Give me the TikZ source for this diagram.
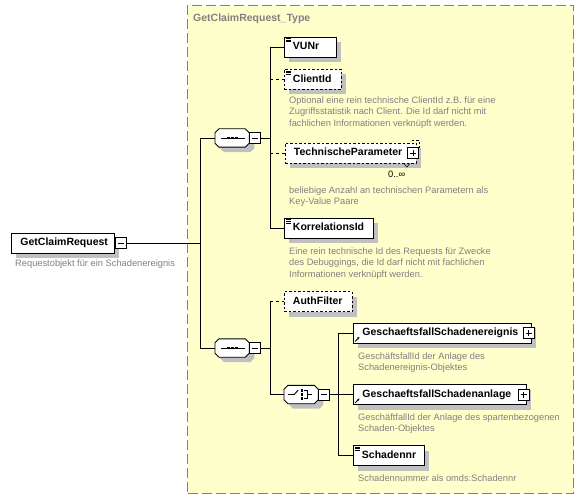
\documentclass[tikz,border=0pt]{standalone}
\usepackage{fontspec}
\setmainfont{Liberation Sans}
\usetikzlibrary{shadows,arrows.meta}
\definecolor{yel}{HTML}{FFFFCC}
\definecolor{frm}{HTML}{808080}
\definecolor{shd}{HTML}{C0C0C0}
\definecolor{dsc}{HTML}{808080}
\newcommand\nmfont{\fontsize{10.5}{12}\selectfont\bfseries}
\newcommand\dsfont{\fontsize{9.3}{11.5}\selectfont}
\newcommand\octpath[1]{([xshift=4pt]#1.north west) -- ([xshift=-4pt]#1.north east) -- ([yshift=-4pt]#1.north east) -- ([yshift=4pt]#1.south east) -- ([xshift=-4pt]#1.south east) -- ([xshift=4pt]#1.south west) -- ([yshift=4pt]#1.south west) -- ([yshift=-4pt]#1.north west) -- cycle}
\newcommand\drawocto[1]{%
  \fill[shd, transform canvas={xshift=5pt,yshift=-5pt}] \octpath{#1};
  \draw[line width=0.9pt, fill=white] \octpath{#1};}
\newcommand\simpleicon[1]{\foreach \dy in {1.8pt,3.5pt,5.2pt}{\draw[line width=0.5pt] ([shift={(2pt,-\dy)}]#1.north west) -- ++(5pt,0pt);}}
\newcommand\reficon[1]{\draw[line width=0.8pt, -{Stealth[length=2.6pt,width=2.6pt]}] ([shift={(2pt,2pt)}]#1.south west) -- ++(4.5pt,4.5pt);}
\newcommand\seqicon[1]{%
  \draw[line width=0.9pt] ([xshift=-11pt]#1.center) -- ([xshift=13pt]#1.center);
  \foreach \dx in {-4pt,0pt,4pt}{\fill ([xshift=\dx]#1.center) +(-1.4pt,-1.4pt) rectangle +(1.4pt,1.4pt);}}
\newcommand\choiceicon[1]{%
  \draw[line width=0.9pt] ([xshift=-13pt]#1.center) -- ([xshift=-7pt]#1.center) -- ([shift={(-3pt,4.5pt)}]#1.center);
  \foreach \dy in {-4pt,0pt,4pt}{\fill ([shift={(1pt,\dy)}]#1.center) +(-1.2pt,-1.2pt) rectangle +(1.2pt,1.2pt);}
  \draw[line width=0.9pt] ([shift={(3pt,4pt)}]#1.center) -- ([shift={(6pt,4pt)}]#1.center) -- ([shift={(6pt,-4pt)}]#1.center) -- ([shift={(3pt,-4pt)}]#1.center);
  \draw[line width=0.9pt] ([xshift=6pt]#1.center) -- ([xshift=11pt]#1.center);}
\tikzset{
  conn/.style={line width=0.9pt},
  elbox/.style={draw, fill=white, line width=0.9pt, font=\nmfont, anchor=west, inner sep=0pt,
    minimum height=20pt, text height=7.6pt, text depth=2.2pt, align=left, text width=#1,
    general shadow={fill=shd, shadow xshift=5pt, shadow yshift=-5pt}},
  optbox/.style={elbox=#1, dash pattern=on 2.5pt off 2pt},
  octo/.style={anchor=west, minimum width=34pt, minimum height=18pt, inner sep=0pt},
  mbox/.style={draw, fill=white, line width=0.9pt, minimum size=11pt, inner sep=0pt, anchor=west,
    path picture={\draw[line width=0.9pt] ([xshift=2.5pt]path picture bounding box.west) -- ([xshift=-2.5pt]path picture bounding box.east);}},
  pbox/.style={draw, fill=white, line width=0.9pt, minimum size=11pt, inner sep=0pt, anchor=center,
    path picture={\draw[line width=0.9pt] ([xshift=2.5pt]path picture bounding box.west) -- ([xshift=-2.5pt]path picture bounding box.east) ([yshift=-2.5pt]path picture bounding box.north) -- ([yshift=2.5pt]path picture bounding box.south);}},
  descr/.style={anchor=north west, inner sep=0pt, font=\dsfont, text=dsc, align=left},
  typebox/.style={draw=frm, fill=yel, line width=1pt, dash pattern=on 10pt off 4pt, anchor=north west,
    minimum width=386pt, minimum height=488pt, inner sep=0pt},
}
\begin{document}
\begin{tikzpicture}[x=1pt,y=-1pt]
\useasboundingbox (0,0) rectangle (584,500);
\fill[white] (0,0) rectangle (584,500);
\node[typebox] (tb) at (187,5) {};
\node[anchor=base west, font=\nmfont, text=dsc, inner sep=0pt] (title) at (193,22) {GetClaimRequest\_Type};
\coordinate (s0) at (200,0);
\coordinate (s1) at (270,0);
\coordinate (s2) at (338,0);
% root element
\node[elbox=103pt] (gcr) at (11,243) {\hspace*{9pt}GetClaimRequest};
\node[mbox] (gcrm) at (gcr.east) {};
\node[descr] (gcrd) at (15,259) {\rule{0pt}{7pt}Requestobjekt für ein Schadenereignis};
% sequence 1
\node[octo] (seqA) at (215,138) {};
\drawocto{seqA}
\seqicon{seqA}
\node[mbox] (seqAm) at (seqA.east) {};
\node[elbox=52pt] (vunr) at (284,47) {\hspace*{8.5pt}VUNr};
\simpleicon{vunr}
\node[optbox=57pt] (client) at (284,79.5) {\hspace*{8.5pt}ClientId};
\simpleicon{client}
\node[descr] (clientd) at (289,96) {\rule{0pt}{7pt}Optional eine rein technische ClientId z.B. für eine\\Zugriffsstatistik nach Client. Die Id darf nicht mit\\fachlichen Informationen verknüpft werden.};
\node[optbox=131pt] (tp) at (285,153) {\hspace*{8.5pt}TechnischeParameter};
\draw[line width=0.9pt, dash pattern=on 2.5pt off 2pt] ([xshift=-5pt,yshift=2.5pt]tp.north east) -- ([xshift=2.5pt,yshift=2.5pt]tp.north east) -- ([xshift=2.5pt,yshift=-5pt]tp.north east);
\node[pbox] (tpp) at ([xshift=-3.5pt]tp.east) {};
\draw[line width=0.6pt] ([xshift=-13pt]tp.south east) -- ++(3pt,-3.5pt) -- ++(3pt,3.5pt);
\node[anchor=base west, font=\dsfont, inner sep=0pt] (tpocc) at (388,178) {0..∞};
\node[descr] (tpd) at (289,186) {\rule{0pt}{7pt}beliebige Anzahl an technischen Parametern als\\Key-Value Paare};
\node[elbox=89pt] (korr) at (284,228) {\hspace*{8.5pt}KorrelationsId};
\simpleicon{korr}
\node[descr] (korrd) at (289,247) {\rule{0pt}{7pt}Eine rein technische Id des Requests für Zwecke\\des Debuggings, die Id darf nicht mit fachlichen\\Informationen verknüpft werden.};
% sequence 2
\node[octo] (seqB) at (215,348) {};
\drawocto{seqB}
\seqicon{seqB}
\node[mbox] (seqBm) at (seqB.east) {};
\node[optbox=68pt] (auth) at (284,301.5) {\hspace*{8.5pt}AuthFilter};
% choice
\node[octo] (choice) at (284,394.5) {};
\drawocto{choice}
\choiceicon{choice}
\node[mbox] (choicem) at (choice.east) {};
\node[elbox=178pt] (gse) at (353,333) {\hspace*{9pt}GeschaeftsfallSchadenereignis};
\node[pbox] (gsep) at ([xshift=-3pt]gse.east) {};
\reficon{gse}
\node[descr] (gsed) at (358,352) {\rule{0pt}{7pt}GeschäftsfallId der Anlage des\\Schadenereignis-Objektes};
\node[elbox=173pt] (gsa) at (353,394.5) {\hspace*{9pt}GeschaeftsfallSchadenanlage};
\node[pbox] (gsap) at ([xshift=-3pt]gsa.east) {};
\reficon{gsa}
\node[descr] (gsad) at (358,413) {\rule{0pt}{7pt}GeschäftfallId der Anlage des spartenbezogenen\\Schaden-Objektes};
\node[elbox=71pt] (schnr) at (353,455.5) {\hspace*{8.5pt}Schadennr};
\simpleicon{schnr}
\node[descr] (schnrd) at (358,474) {\rule{0pt}{7pt}Schadennummer als omds:Schadennr};
% connectors
\draw[conn] (gcrm.east) -- (gcrm.east -| s0);
\draw[conn] (seqA.west) -- (seqA.west -| s0) -- (seqB.west -| s0) -- (seqB.west);
\draw[conn] (seqAm.east) -- (seqAm.east -| s1);
\draw[conn] (vunr.west) -- (vunr.west -| s1) -- (korr.west -| s1) -- (korr.west);
\draw[conn, dashed] (client.west -| s1) -- (client.west);
\draw[conn, dashed] (tp.west -| s1) -- (tp.west);
\draw[conn] (seqBm.east) -- (seqBm.east -| s1);
\draw[conn] (auth.west -| s1) -- (choice.west -| s1) -- (choice.west);
\draw[conn, dashed] (auth.west -| s1) -- (auth.west);
\draw[conn] (choicem.east) -- (choicem.east -| s2);
\draw[conn] (gse.west) -- (gse.west -| s2) -- (schnr.west -| s2) -- (schnr.west);
\draw[conn] (gsa.west -| s2) -- (gsa.west);
\end{tikzpicture}
\end{document}
